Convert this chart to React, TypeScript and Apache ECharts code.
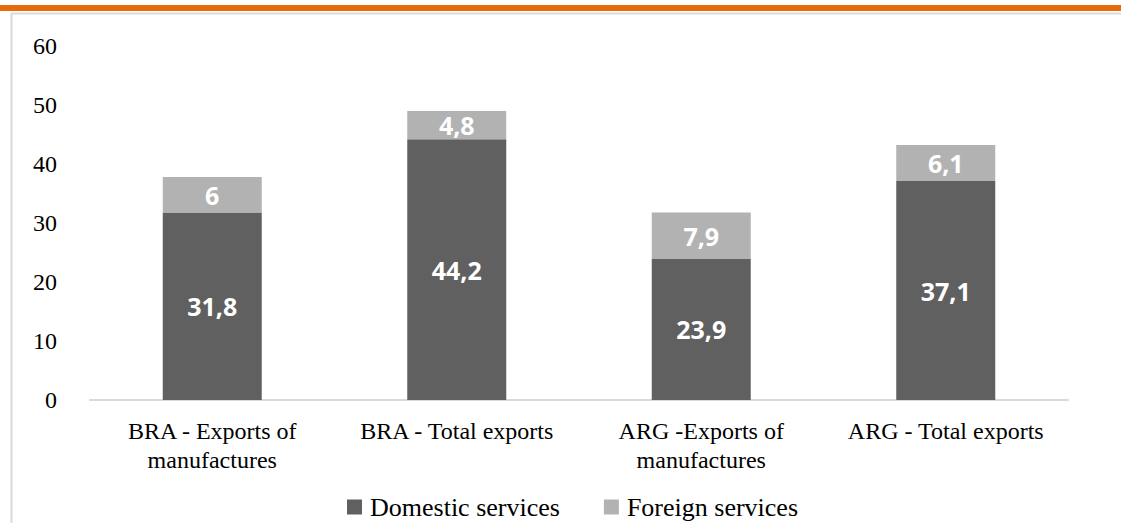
import React, { useEffect, useRef } from "react";
import * as echarts from "echarts";

const categories = [
  "BRA - Exports of\nmanufactures",
  "BRA - Total exports",
  "ARG -Exports of\nmanufactures",
  "ARG - Total exports",
];
const domestic = [31.8, 44.2, 23.9, 37.1];
const foreign = [6, 4.8, 7.9, 6.1];
const seriesNames = ["Domestic services", "Foreign services"];

const fmt = (v: number) => String(v).replace(".", ",");

export default function App() {
  const ref = useRef<HTMLDivElement>(null);
  useEffect(() => {
    if (!ref.current) return;
    const chart = echarts.init(ref.current, undefined, { renderer: "svg" });
    const serif = "Liberation Serif";
    const labelStyle = {
      show: true,
      position: "inside" as const,
      color: "#ffffff",
      fontFamily: "Open Sans",
      fontWeight: "bold" as const,
      fontSize: 25,
      formatter: (p: any) => fmt(p.value),
    };
    chart.setOption({
      animation: false,
      backgroundColor: "#ffffff",
      graphic: [
        { type: "rect", shape: { x: 0, y: 5, width: 1121, height: 6 }, style: { fill: "#E46C0A" } },
        { type: "line", shape: { x1: 11, y1: 13.5, x2: 1121, y2: 13.5 }, style: { stroke: "#D9D9D9", lineWidth: 2 } },
        { type: "line", shape: { x1: 11.5, y1: 13, x2: 11.5, y2: 523 }, style: { stroke: "#D9D9D9", lineWidth: 2 } },
      ],
      grid: { left: 90, right: 53, top: 46, bottom: 123, containLabel: false },
      legend: {
        left: 347,
        top: 494,
        padding: 0,
        itemWidth: 15,
        itemHeight: 15,
        itemGap: 44,
        icon: "rect",
        textStyle: { fontFamily: serif, fontSize: 26, lineHeight: 26, color: "#000000", padding: [0, 0, 0, 3] },
        data: seriesNames,
      },
      xAxis: {
        type: "category",
        data: categories,
        axisLine: { lineStyle: { color: "#D9D9D9", width: 2 } },
        axisTick: { show: false },
        axisLabel: {
          fontFamily: serif,
          fontSize: 24,
          color: "#000000",
          lineHeight: 29,
          margin: 16,
          interval: 0,
        },
      },
      yAxis: {
        type: "value",
        min: 0,
        max: 60,
        interval: 10,
        axisLine: { show: false },
        axisTick: { show: false },
        splitLine: { show: false },
        axisLabel: { fontFamily: serif, fontSize: 24, color: "#000000", margin: 33 },
      },
      series: [
        {
          name: seriesNames[0],
          type: "bar",
          stack: "total",
          data: domestic,
          barWidth: 99,
          itemStyle: { color: "#606060" },
          label: labelStyle,
        },
        {
          name: seriesNames[1],
          type: "bar",
          stack: "total",
          data: foreign,
          barWidth: 99,
          itemStyle: { color: "#B2B2B2" },
          label: labelStyle,
        },
      ],
    });
    return () => chart.dispose();
  }, []);
  return (
    <div
      ref={ref}
      style={{ position: "fixed", left: 0, top: 0, width: 1121, height: 523 }}
    />
  );
}
